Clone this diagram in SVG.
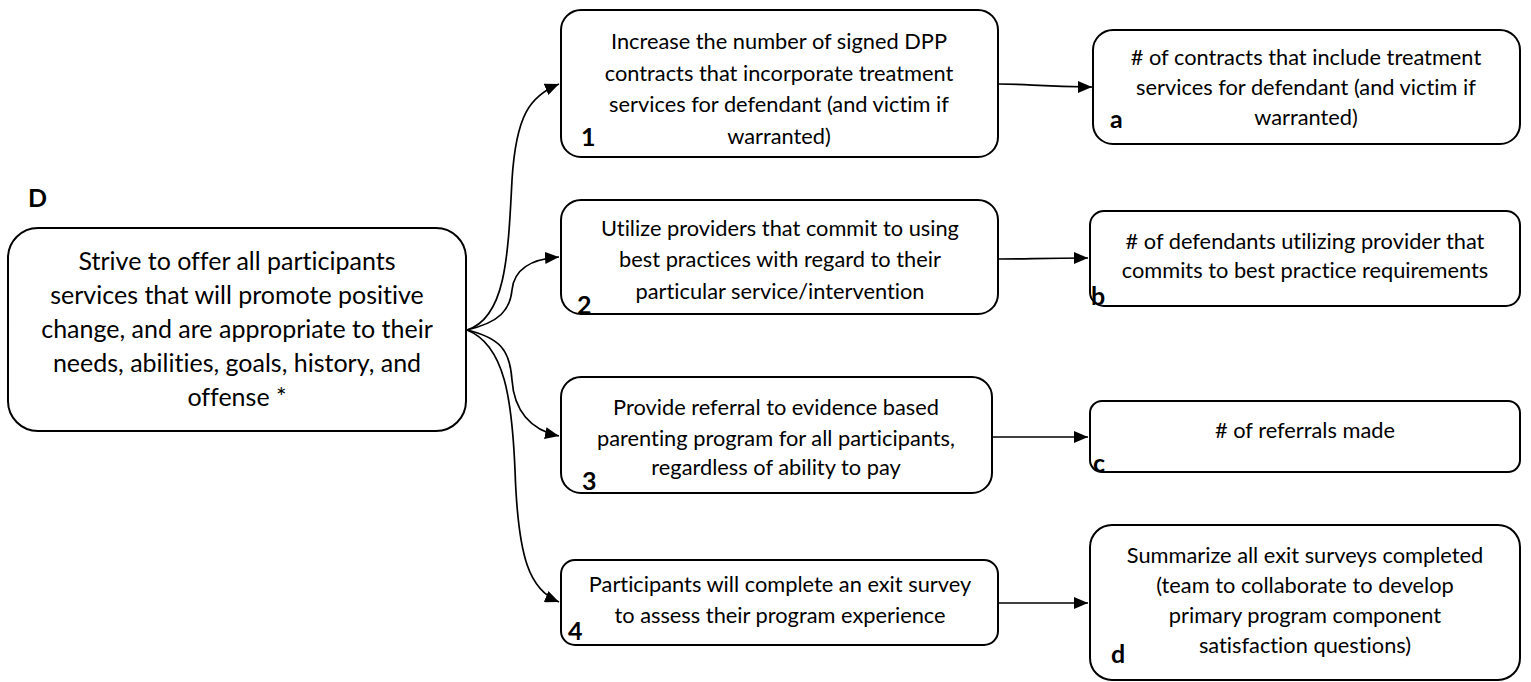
<svg xmlns="http://www.w3.org/2000/svg" width="1531" height="682" viewBox="0 0 1531 682">
  <style>
    .box { fill: #ffffff; stroke: #000000; stroke-width: 2; }
    .t, .tb, .lbl { font-family: Lato, "Open Sans", "Liberation Sans", sans-serif; fill: #000000; font-variant-ligatures: none; }
    .t { font-size: 21.8px; text-anchor: middle; }
    .tb { font-size: 25px; text-anchor: middle; }
    .lbl { font-size: 25px; font-weight: bold; }
    .conn { fill: none; stroke: #000000; stroke-width: 1.7; marker-end: url(#arrow); }
  </style>
  <defs>
    <marker id="arrow" viewBox="0 0 14 12" refX="14" refY="6" markerWidth="14" markerHeight="12" markerUnits="userSpaceOnUse" orient="auto">
      <path d="M0,0 L14,6 L0,12 Z" fill="#000000"/>
    </marker>
  </defs>
  <rect width="1531" height="682" fill="#ffffff"/>

  <g id="connectors">
    <path class="conn" d="M467,330 C505,318 508,260 512,180 C516,115 530,96 559,84"/>
    <path class="conn" d="M467,330 C500,322 510,310 512,290 C514,270 530,259 559,257"/>
    <path class="conn" d="M467,330 C500,338 510,350 512,380 C514,410 530,430 559,436"/>
    <path class="conn" d="M467,330 C505,345 512,400 515,470 C518,560 530,590 559,602"/>
    <path class="conn" d="M999,84 C1030,84 1040,87 1092,87"/>
    <path class="conn" d="M999,259 C1030,259 1040,258 1088,258"/>
    <path class="conn" d="M993,437 L1088,437"/>
    <path class="conn" d="M999,603 L1088,603"/>
  </g>

  <g id="node-D">
    <text class="lbl" x="28" y="207">D</text>
    <rect class="box" x="8" y="228" width="458" height="203" rx="30"/>
    <text class="tb" x="237" y="270">Strive to offer all participants</text>
    <text class="tb" x="237" y="304">services that will promote positive</text>
    <text class="tb" x="237" y="338">change, and are appropriate to their</text>
    <text class="tb" x="237" y="372">needs, abilities, goals, history, and</text>
    <text class="tb" x="237" y="406">offense *</text>
  </g>

  <g id="node-1">
    <rect class="box" x="561" y="10" width="437" height="147" rx="20"/>
    <text class="t" x="779" y="49">Increase the number of signed DPP</text>
    <text class="t" x="779" y="81">contracts that incorporate treatment</text>
    <text class="t" x="779" y="112">services for defendant (and victim if</text>
    <text class="t" x="779" y="144">warranted)</text>
    <text class="lbl" x="581" y="146">1</text>
  </g>

  <g id="node-2">
    <rect class="box" x="561" y="200" width="437" height="114" rx="20"/>
    <text class="t" x="780" y="236">Utilize providers that commit to using</text>
    <text class="t" x="780" y="267">best practices with regard to their</text>
    <text class="t" x="780" y="299">particular service/intervention</text>
    <text class="lbl" x="577" y="314">2</text>
  </g>

  <g id="node-3">
    <rect class="box" x="561" y="377" width="431" height="116" rx="20"/>
    <text class="t" x="776" y="415">Provide referral to evidence based</text>
    <text class="t" x="776" y="446">parenting program for all participants,</text>
    <text class="t" x="776" y="475">regardless of ability to pay</text>
    <text class="lbl" x="582" y="490">3</text>
  </g>

  <g id="node-4">
    <rect class="box" x="561" y="560" width="437" height="85" rx="14"/>
    <text class="t" x="780" y="592">Participants will complete an exit survey</text>
    <text class="t" x="780" y="623">to assess their program experience</text>
    <text class="lbl" x="568" y="640">4</text>
  </g>

  <g id="node-a">
    <rect class="box" x="1093" y="30" width="427" height="114" rx="20"/>
    <text class="t" x="1306" y="65">&#35; of contracts that include treatment</text>
    <text class="t" x="1306" y="95">services for defendant (and victim if</text>
    <text class="t" x="1306" y="125">warranted)</text>
    <text class="lbl" x="1110" y="128">a</text>
  </g>

  <g id="node-b">
    <rect class="box" x="1090" y="211" width="430" height="95" rx="14"/>
    <text class="t" x="1305" y="249">&#35; of defendants utilizing provider that</text>
    <text class="t" x="1305" y="278">commits to best practice requirements</text>
    <text class="lbl" x="1091" y="305">b</text>
  </g>

  <g id="node-c">
    <rect class="box" x="1090" y="401" width="430" height="71" rx="12"/>
    <text class="t" x="1305" y="438"># of referrals made</text>
    <text class="lbl" x="1093" y="472">c</text>
  </g>

  <g id="node-d">
    <rect class="box" x="1090" y="525" width="430" height="155" rx="22"/>
    <text class="t" x="1305" y="563">Summarize all exit surveys completed</text>
    <text class="t" x="1305" y="593">(team to collaborate to develop</text>
    <text class="t" x="1305" y="623">primary program component</text>
    <text class="t" x="1305" y="653">satisfaction questions)</text>
    <text class="lbl" x="1111" y="663">d</text>
  </g>
</svg>
